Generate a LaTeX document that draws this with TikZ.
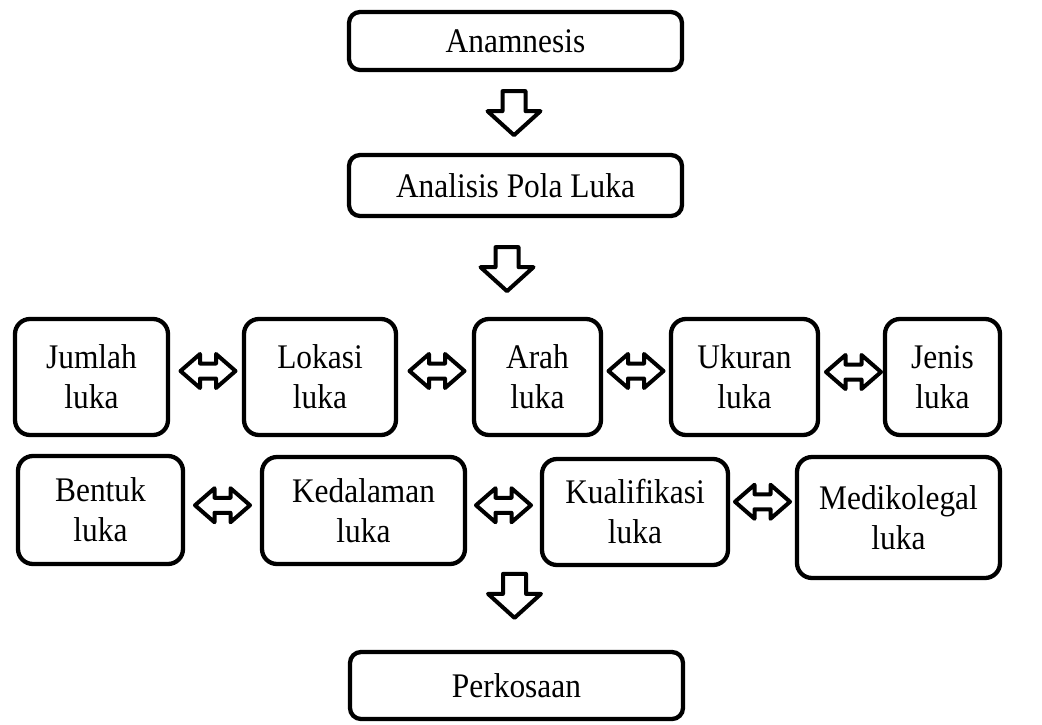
\documentclass[tikz,border=0pt]{standalone}
\usepackage{fontspec}
\setmainfont{Liberation Serif}[FakeStretch=0.91]
\usetikzlibrary{calc}
\begin{document}
\begin{tikzpicture}[x=1pt,y=-1pt,
  box/.style={draw,line width=4.3pt,rounded corners=15pt,align=center,inner sep=0pt,
    font=\fontsize{34.5}{40}\selectfont},
  wide/.style={box,rounded corners=11pt,minimum width=333pt},
  blk/.style={draw,line width=4pt,line join=round,fill=white},
  downarr/.pic={\path[blk] (-11.5,0) -- (-11.5,20) -- (-26.5,20) -- (0,44) -- (26.5,20) -- (11.5,20) -- (11.5,0) -- cycle;},
  dblarr/.pic={\path[blk] (-27.5,0) -- (-8,-17) -- (-8,-7.5) -- (8,-7.5) -- (8,-17) -- (27.5,0) -- (8,17) -- (8,7.5) -- (-8,7.5) -- (-8,17) -- cycle;}
]
\useasboundingbox (0,0) rectangle (1042,724);

\node[wide,minimum height=58pt] (anam) at (515.5,41) {Anamnesis};
\node[wide,minimum height=61pt] (anal) at (515.5,185.5) {Analisis Pola Luka};

\node[box,minimum width=153pt,minimum height=116pt] (jum) at (91.5,377) {Jumlah\\luka};
\node[box,minimum width=152pt,minimum height=116pt] (lok) at (320,377) {Lokasi\\luka};
\node[box,minimum width=127pt,minimum height=116pt] (arah) at (537.5,377) {Arah\\luka};
\node[box,minimum width=147pt,minimum height=116pt] (ukr) at (744.5,377) {Ukuran\\luka};
\node[box,minimum width=115pt,minimum height=116pt] (jen) at (942.5,377) {Jenis\\luka};

\node[box,minimum width=165pt,minimum height=108pt] (ben) at (100.5,510) {Bentuk\\luka};
\node[box,minimum width=203pt,minimum height=107pt] (ked) at (363.5,510.5) {Kedalaman\\luka};
\node[box,minimum width=186pt,minimum height=106pt] (kua) at (635,512) {Kualifikasi\\luka};
\node[box,minimum width=203pt,minimum height=121pt] (med) at (898.5,517.5) {Medikolegal\\luka};

\node[wide,minimum height=67pt] (perk) at (516.5,685.5) {Perkosaan};

\pic at ($(anam.south)+(-1.5,19)$) {downarr};
\pic at ($(anal.south)+(-8.5,29)$) {downarr};
\pic at ($(perk.north)+(-2,-76)$) {downarr};

\pic at ($(jum.east)!0.5!(lok.west)+(2,-6)$) {dblarr};
\pic at ($(lok.east)!0.5!(arah.west)+(2,-6)$) {dblarr};
\pic at ($(arah.east)!0.5!(ukr.west)+(0,-6)$) {dblarr};
\pic at ($(ukr.east)!0.5!(jen.west)+(2,-5)$) {dblarr};

\pic at ($(ben.east)!0.5!(ked.west)+(0,-5)$) {dblarr};
\pic at ($(ked.east)!0.5!(kua.west)+(0,-6)$) {dblarr};
\pic at ($(kua.east)!0.5!(med.west)+(0,-13)$) {dblarr};
\end{tikzpicture}
\end{document}
